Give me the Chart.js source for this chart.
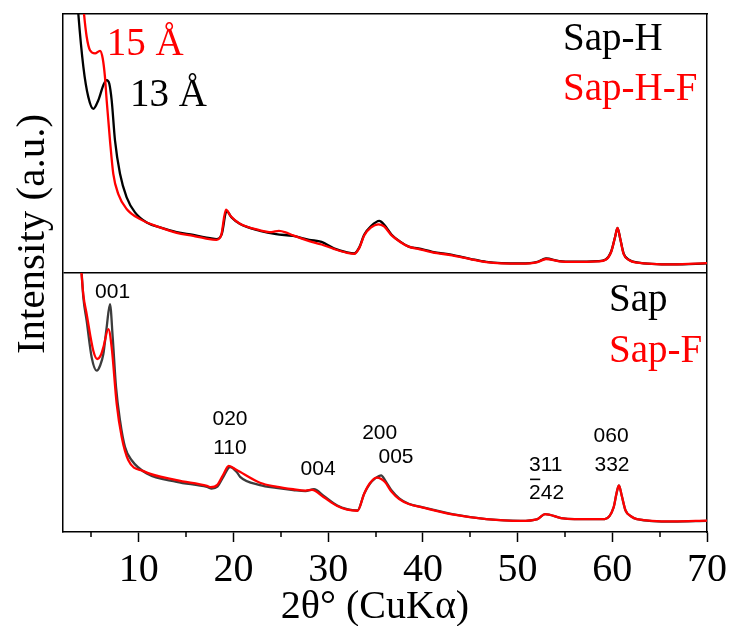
<!DOCTYPE html>
<html><head><meta charset="utf-8">
<script src="https://cdn.jsdelivr.net/npm/chart.js@4"></script>
<style>html,body{margin:0;padding:0;background:#fff}#wrap{width:731px;height:626px;position:relative}</style>
</head><body><div id="wrap"><canvas id="c"></canvas></div>
<script>
// ---- axis ----
const xTickValues = [10, 20, 30, 40, 50, 60, 70];
const xMinorTicks = [5, 15, 25, 35, 45, 55, 65];

// ---- top panel (values in panel units 0..100, shifted up by 100) ----
const sapH_x = [3.40,3.62,4.15,4.67,5.20,5.73,6.26,6.61,6.89,7.14,7.49,8.02,8.72,9.60,10.84,12.24,14.0,15.76,17.0,18.2,18.76,19.28,19.8,20.7,22.8,24.5,26.3,28.0,29.3,30.6,32.0,32.75,33.3,33.8,34.5,35.4,35.9,36.7,37.6,38.5,39.5,41.0,43.1,45.0,46.7,50.3,52.1,53.0,54.4,56.0,58.5,59.3,59.9,60.3,60.55,60.85,61.2,61.8,62.6,66.4,70];
const sapH_y = [112,100,79.6,68,63.4,66.7,72.5,74.5,73.1,66.7,51.2,38.3,29.2,23.4,19.5,17.6,15.8,14.7,13.8,13.1,15,24,21.4,18.9,16.3,15,14.3,12.8,12.0,9.5,8.0,7.6,10,14.8,18,20.1,18.7,14.8,12.1,10.2,9.5,8.2,7,5.5,4.3,3.7,4.3,5.6,4.6,4.4,4.6,5.2,8.5,14,17.4,13,7.5,5,4.1,3.3,3.7];

const sapHF_x = [3.95,4.22,4.50,4.85,5.38,5.91,6.19,6.43,6.61,6.96,7.31,7.84,8.72,10.13,12.24,14.0,15.76,17.0,18.2,18.7,19.2,19.7,20.6,22.8,24.0,24.8,25.6,26.3,28.0,29.3,30.6,32.0,32.75,33.3,33.8,34.5,35.3,35.9,36.7,37.6,38.5,39.5,41.0,43.1,45.0,46.7,50.3,52.1,53.0,54.4,56.0,58.5,59.3,59.9,60.3,60.55,60.85,61.2,61.8,62.6,66.4,70];
const sapHF_y = [112,100,91.2,86,84.8,85.8,82.9,75.7,66.7,51.2,38.3,30.5,24.7,20.8,17.6,15.5,14.3,13.4,12.8,14.5,24.5,22,19.2,16.5,15.8,16.3,15.6,14.5,12.3,11.0,9.3,7.8,7.4,9.8,14.5,17.5,18.8,18.0,14.5,12.0,10.2,9.3,8.0,6.8,5.4,4.2,3.6,4.2,5.4,4.5,4.3,4.5,5.1,8.3,14,17.4,13,7.3,4.9,4,3.3,3.8];

// ---- bottom panel (values 0..100) ----
const sap_x = [3.97,4.15,4.5,5.03,5.56,5.91,6.26,6.61,6.96,7.25,7.6,8.02,8.55,9.25,10.84,14.0,17.2,17.7,18.3,18.93,19.64,20.34,20.7,22.8,24.5,26.3,27.6,28.5,29.5,30.96,32.0,33.1,33.8,34.4,35.0,35.6,36.0,36.7,37.5,38.5,40.0,43.1,46.7,50.3,52.1,52.9,54.6,56.0,59.2,60.14,60.45,60.7,61.0,61.4,62.0,62.6,66.4,70];
const sap_y = [100,90.5,81.5,67.4,62.3,64.2,68.7,79,88,75.1,55.9,43.1,32.8,27.7,22.6,19.4,17.4,16.8,17.5,21.3,25.1,23.2,21.3,18.1,17,16.2,15.8,16.5,14,10.2,8.8,8.3,14.8,18.6,20.8,21.9,20,16,13,10.9,9.5,6.9,5,4.3,5,6.9,5.4,5,5,9.5,15,18,14,8.3,6,5,4,4.3];

const sapF_x = [3.95,4.15,4.5,5.2,5.62,6.0,6.26,6.79,7.14,7.67,8.2,8.9,10.5,14.0,17.2,17.6,18.3,18.9,19.5,20.3,22.8,24.5,26.3,27.6,28.3,29.5,30.96,32.0,33.1,33.8,34.4,35.1,35.6,36.0,36.7,37.5,38.5,40.0,43.1,46.7,50.3,52.1,52.9,54.6,56.0,59.2,60.14,60.45,60.7,61.0,61.4,62.0,62.6,66.4,70];
const sapF_y = [100,91.5,84.1,70,66.8,68.3,71.3,78.3,71.3,49.5,36.7,27.7,23.5,20,17.8,17.3,18.2,22,25.5,24,19,17.5,16.5,16,16.3,13.5,10,8.6,8.2,14.8,18.8,21,20.5,19.3,15.5,12.7,10.8,9.4,6.8,5,4.3,5,6.9,5.4,5,5,9.5,15,18,14,8.3,6,5,4.1,4.4];

// ---- annotations (x in 2θ, y in 0..200 chart units) ----
const seriesLabels = [
  {t:'15 Å', c:'#ff0000', x:6.61, y:184.2},
  {t:'13 Å', c:'#000000', x:9.07, y:164.5},
  {t:'Sap-H', c:'#000000', x:54.8, y:186.1},
  {t:'Sap-H-F', c:'#ff0000', x:54.8, y:166.8},
  {t:'Sap', c:'#000000', x:59.66, y:85.4},
  {t:'Sap-F', c:'#ff0000', x:59.66, y:65.8}
];
const peakLabels = [
  {t:'001', x:7.24, y:90.5}, {t:'020', x:19.63, y:41.3}, {t:'110', x:19.63, y:30.1},
  {t:'004', x:28.93, y:22.0}, {t:'200', x:35.44, y:36.0}, {t:'005', x:37.16, y:26.6},
  {t:'311', x:52.97, y:23.6}, {t:'242', x:53.06, y:12.6, bar:true},
  {t:'060', x:59.87, y:34.7}, {t:'332', x:59.97, y:23.6}
];
const xTitle = '2θ° (CuKα)';
const yTitle = 'Intensity (a.u.)';

function pts(xs, ys, off){ return xs.map((x,i)=>({x:x, y:ys[i]+off})); }

const SERIF = '"Liberation Serif","Times New Roman",serif';
const SANS = '"Liberation Sans",Arial,sans-serif';

const textPlugin = {
  id:'texts',
  afterDraw(chart){
    const ctx = chart.ctx, xs = chart.scales.x, ys = chart.scales.y;
    const ca = chart.chartArea;
    ctx.save();
    // minor ticks
    ctx.strokeStyle = '#000'; ctx.lineWidth = 1.5;
    xMinorTicks.forEach(v=>{
      const px = Math.round(xs.getPixelForValue(v));
      ctx.beginPath(); ctx.moveTo(px, ca.bottom); ctx.lineTo(px, ca.bottom+5); ctx.stroke();
    });
    // series labels
    ctx.font = '39px ' + SERIF; ctx.textAlign = 'left'; ctx.textBaseline = 'alphabetic';
    seriesLabels.forEach(l=>{ ctx.fillStyle = l.c; ctx.fillText(l.t, xs.getPixelForValue(l.x), ys.getPixelForValue(l.y)); });
    // peak labels
    ctx.font = '21px ' + SANS; ctx.fillStyle = '#000'; ctx.textAlign = 'center';
    peakLabels.forEach(l=>{
      const px = xs.getPixelForValue(l.x), py = ys.getPixelForValue(l.y);
      ctx.fillText(l.t, px, py);
      if (l.bar){
        const w = ctx.measureText(l.t).width, w1 = ctx.measureText(l.t[0]).width;
        const x0 = px - w/2;
        ctx.lineWidth = 1.6; ctx.strokeStyle = '#000';
        ctx.beginPath(); ctx.moveTo(x0+1, py-20); ctx.lineTo(x0+w1-0.5, py-20); ctx.stroke();
      }
    });
    // axis titles
    ctx.fillStyle = '#000';
    ctx.font = '40px ' + SERIF; ctx.textAlign = 'center'; ctx.textBaseline = 'alphabetic';
    ctx.fillText(xTitle, 375, 618);
    ctx.translate(44, 234); ctx.rotate(-Math.PI/2);
    ctx.font = '41px ' + SERIF;
    ctx.fillText(yTitle, 0, 0);
    ctx.restore();
  }
};

new Chart(document.getElementById('c'), {
  type:'line',
  data:{ datasets:[
    {label:'Sap-H', order:2, data:pts(sapH_x, sapH_y, 100), borderColor:'#000000', borderWidth:2.3, pointRadius:0, cubicInterpolationMode:'monotone', xAxisID:'x', yAxisID:'y'},
    {label:'Sap-H-F', order:1, data:pts(sapHF_x, sapHF_y, 100), borderColor:'#ff0000', borderWidth:2.3, pointRadius:0, cubicInterpolationMode:'monotone', xAxisID:'x', yAxisID:'y'},
    {label:'Sap', order:2, data:pts(sap_x, sap_y, 0), borderColor:'#3c3c3c', borderWidth:2.3, pointRadius:0, cubicInterpolationMode:'monotone', xAxisID:'x', yAxisID:'y'},
    {label:'Sap-F', order:1, data:pts(sapF_x, sapF_y, 0), borderColor:'#ff0000', borderWidth:2.3, pointRadius:0, cubicInterpolationMode:'monotone', xAxisID:'x', yAxisID:'y'}
  ]},
  options:{
    responsive:true, maintainAspectRatio:false, animation:false,
    layout:{padding:0},
    plugins:{legend:{display:false}, tooltip:{enabled:false}},
    scales:{
      x:{type:'linear', position:'bottom', min:2, max:70,
        afterBuildTicks:s=>{ s.ticks = xTickValues.map(v=>({value:v})); },
        afterFit:s=>{ s.height = 94; },
        grid:{drawOnChartArea:false, tickLength:10, tickColor:'#000', tickWidth:1.5},
        border:{color:'#000', width:1.5},
        ticks:{color:'#000', font:{family:SERIF, size:40}, padding:4, maxRotation:0, autoSkip:false}
      },
      xTop:{type:'linear', position:'top', min:2, max:70,
        afterFit:s=>{ s.height = 14; },
        grid:{display:false}, ticks:{display:false}, border:{color:'#000', width:1.5}
      },
      y:{type:'linear', position:'left', min:0, max:200,
        afterBuildTicks:s=>{ s.ticks = [{value:100}]; },
        afterFit:s=>{ s.width = 63; },
        grid:{drawTicks:false, color:'#000', lineWidth:1.5},
        ticks:{display:false}, border:{color:'#000', width:1.5}
      },
      yRight:{type:'linear', position:'right', min:0, max:200,
        afterFit:s=>{ s.width = 24; },
        grid:{display:false}, ticks:{display:false}, border:{color:'#000', width:1.5}
      }
    }
  },
  plugins:[textPlugin]
});
</script></body></html>
